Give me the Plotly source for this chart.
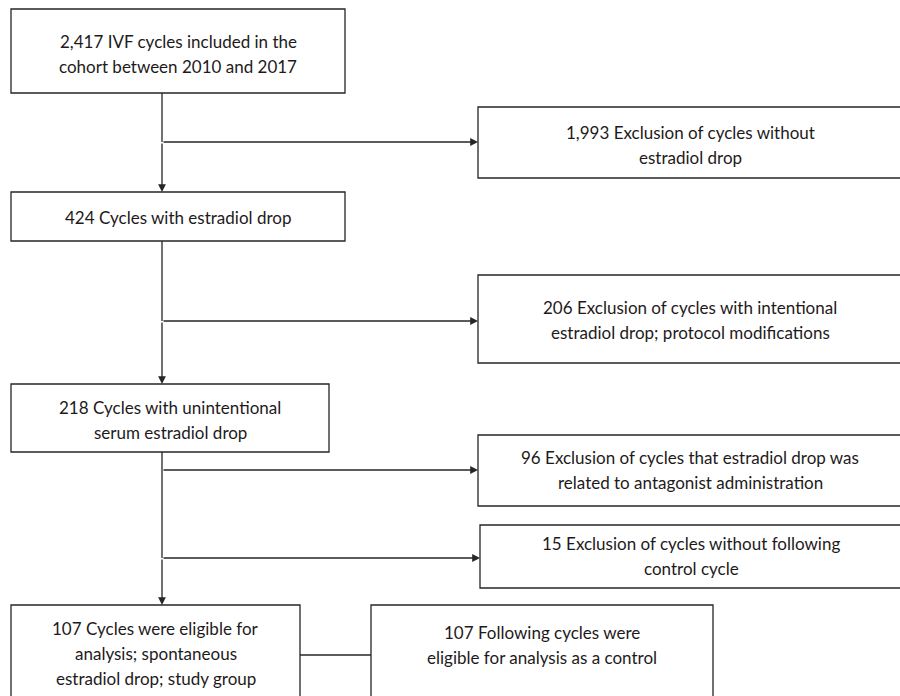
import plotly.graph_objects as go

# ---- content (data) ----
box_ids = ["cohort", "excl1", "drop", "excl2", "unint", "excl3", "excl4", "study", "control"]
counts = [2417, 1993, 424, 206, 218, 96, 15, 107, 107]
box_lines = [
    ["2,417 IVF cycles included in the", "cohort between 2010 and 2017"],
    ["1,993 Exclusion of cycles without", "estradiol drop"],
    ["424 Cycles with estradiol drop"],
    ["206 Exclusion of cycles with intentional", "estradiol drop; protocol modifications"],
    ["218 Cycles with unintentional", "serum estradiol drop"],
    ["96 Exclusion of cycles that estradiol drop was", "related to antagonist administration"],
    ["15 Exclusion of cycles without following", "control cycle"],
    ["107 Cycles were eligible for", "analysis; spontaneous", "estradiol drop; study group"],
    ["107 Following cycles were", "eligible for analysis as a control"],
]

# ---- layout geometry (pixels) ----
box_x0 = [11, 478, 11, 478, 11, 478, 480, 11, 371]
box_x1 = [345, 902, 345, 902, 329, 902, 902, 300, 713]
box_y0 = [9, 107, 192, 275, 384, 435, 525, 605, 605]
box_y1 = [93, 178, 241, 363, 452, 506, 588, 705, 705]
text_cy = [54, 145, 217, 320, 420, 470, 556, 653, 645]
line_gap = 25

W, H = 900, 696
line_col = "#262626"
text_col = "#1e1a1b"
lw = 1.3

fig = go.Figure()
shapes = []
annotations = []

for i in range(len(box_ids)):
    shapes.append(dict(type="rect", xref="x", yref="y",
                       x0=box_x0[i], x1=box_x1[i], y0=box_y0[i], y1=box_y1[i],
                       line=dict(color=line_col, width=lw), fillcolor="white", layer="below"))
    lines = box_lines[i]
    n = len(lines)
    cx = (box_x0[i] + box_x1[i]) / 2
    for k, t in enumerate(lines):
        cy = text_cy[i] + (k - (n - 1) / 2) * line_gap
        annotations.append(dict(x=cx, y=cy, xref="x", yref="y", text=t, showarrow=False,
                                xanchor="center", yanchor="middle",
                                font=dict(family="Lato", size=17, color=text_col)))

trunk_x = 162
# plain connector segments (no arrowhead)
segments = [
    (trunk_x, 93, trunk_x, 142),
    (trunk_x, 241, trunk_x, 321),
    (trunk_x, 452, trunk_x, 558),
    (300, 655, 371, 655),
]
for (x0, y0, x1, y1) in segments:
    shapes.append(dict(type="line", xref="x", yref="y", x0=x0, y0=y0, x1=x1, y1=y1,
                       line=dict(color=line_col, width=lw)))

# arrows: (tail_x, tail_y, head_x, head_y)
arrows = [
    (trunk_x, 142, trunk_x, 192),
    (trunk_x, 142, 478, 142),
    (trunk_x, 321, trunk_x, 384),
    (trunk_x, 321, 478, 321),
    (trunk_x, 558, trunk_x, 605),
    (trunk_x, 470, 478, 470),
    (trunk_x, 558, 480, 558),
]
for (tx, ty, hx, hy) in arrows:
    annotations.append(dict(x=hx, y=hy, ax=tx, ay=ty, xref="x", yref="y", axref="x", ayref="y",
                            text="", showarrow=True, arrowhead=2, arrowsize=1.2,
                            arrowwidth=lw, arrowcolor=line_col, standoff=0))

fig.update_layout(
    width=W, height=H,
    margin=dict(l=0, r=0, t=0, b=0),
    paper_bgcolor="white", plot_bgcolor="white",
    xaxis=dict(range=[0, W], visible=False, fixedrange=True),
    yaxis=dict(range=[H, 0], visible=False, fixedrange=True),
    shapes=shapes, annotations=annotations, showlegend=False,
)
fig.write_html("out.html", config={"displayModeBar": False},
               post_script="document.body.style.margin='0';document.body.style.overflow='hidden';")
